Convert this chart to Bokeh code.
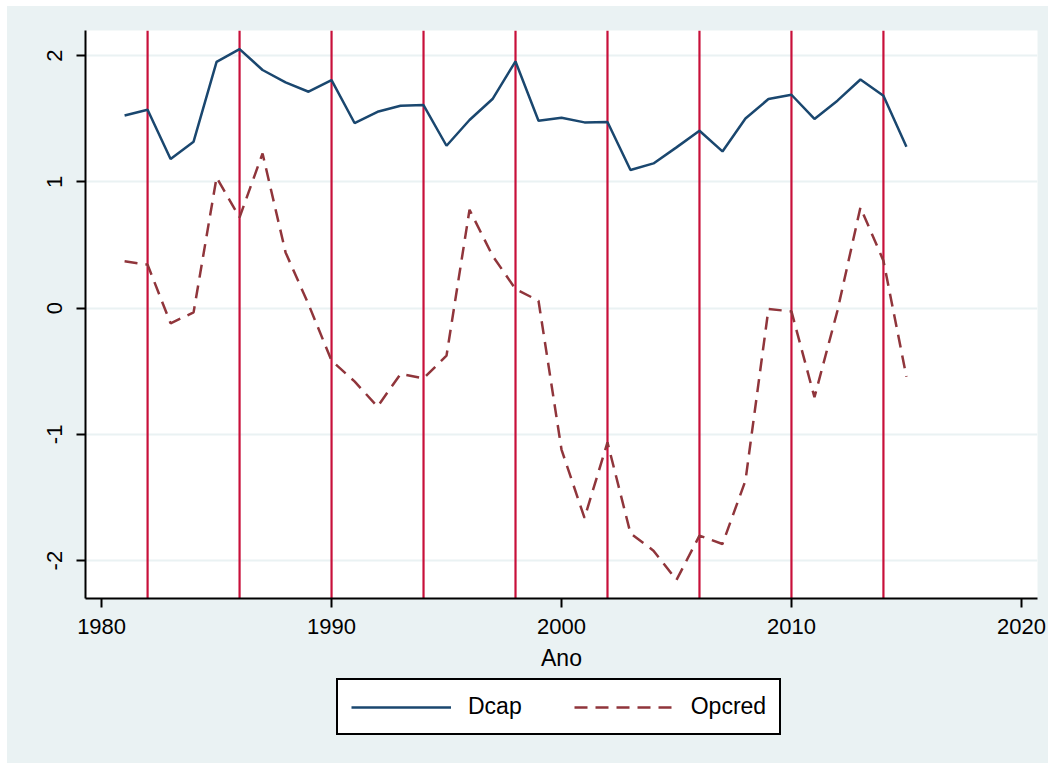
from bokeh.plotting import figure
from bokeh.models import Range1d, FixedTicker, Span, Legend, LegendItem
from bokeh.layouts import column
from bokeh.embed import file_html
from bokeh.resources import INLINE

# ---- data ----
years = list(range(1981, 2016))
dcap = [1.527, 1.572, 1.182, 1.319, 1.952, 2.053, 1.887, 1.789, 1.715, 1.807,
        1.467, 1.556, 1.604, 1.609, 1.287, 1.491, 1.657, 1.955, 1.485, 1.509,
        1.472, 1.475, 1.095, 1.147, 1.274, 1.406, 1.242, 1.503, 1.657, 1.691,
        1.499, 1.644, 1.812, 1.683, 1.279]
opcred = [0.371, 0.345, -0.120, -0.033, 1.036, 0.719, 1.226, 0.442, 0.030, -0.416,
          -0.580, -0.780, -0.521, -0.556, -0.376, 0.780, 0.416, 0.152, 0.059, -1.120,
          -1.662, -1.063, -1.784, -1.921, -2.153, -1.802, -1.868, -1.366, -0.007, -0.025,
          -0.706, -0.020, 0.799, 0.376, -0.543]
election_years = [1982, 1986, 1990, 1994, 1998, 2002, 2006, 2010, 2014]
x_ticks = [1980, 1990, 2000, 2010, 2020]
y_ticks = [-2, -1, 0, 1, 2]
y_tick_labels = ["-2", "-1", "0", "1", "2"]
series_names = ["Dcap", "Opcred"]

FONT = "Liberation Sans"
BG = "#EAF2F3"
C_DCAP = "#1A476F"
C_OPC = "#90353B"
DASH = "13 8"

p = figure(width=1041, height=670, output_backend="svg", toolbar_location=None,
           x_range=Range1d(1979.3, 2020.7), y_range=Range1d(-2.30, 2.20),
           min_border_left=78, min_border_right=11, min_border_top=24,
           min_border_bottom=78)
p.border_fill_color = BG
p.background_fill_color = "white"
p.outline_line_color = None

# grid
p.xgrid.visible = False
p.ygrid.ticker = FixedTicker(ticks=y_ticks)
p.ygrid.grid_line_color = BG
p.ygrid.grid_line_width = 2

# vertical election lines
for yr in election_years:
    p.add_layout(Span(location=yr, dimension="height", line_color="#C8103A",
                      line_width=2.2, level="underlay"))

r1 = p.line(years, dcap, line_color=C_DCAP, line_width=2.5)
r2 = p.line(years, opcred, line_color=C_OPC, line_width=2.5, line_dash=DASH)

# axes
for ax in (p.xaxis[0], p.yaxis[0]):
    ax.axis_line_color = "black"
    ax.axis_line_width = 2
    ax.major_tick_line_color = "black"
    ax.major_tick_line_width = 2
    ax.major_tick_out = 9
    ax.major_tick_in = 0
    ax.minor_tick_line_color = None
    ax.major_label_text_font = FONT
    ax.major_label_text_font_size = "22px"
    ax.major_label_text_color = "black"

p.xaxis.ticker = FixedTicker(ticks=x_ticks)
p.xaxis.major_label_standoff = 11
p.xaxis.axis_label = "Ano"
p.xaxis.axis_label_text_font = FONT
p.xaxis.axis_label_text_font_size = "23px"
p.xaxis.axis_label_text_font_style = "normal"
p.xaxis.axis_label_text_color = "black"
p.xaxis.axis_label_standoff = 8

p.yaxis.ticker = FixedTicker(ticks=y_ticks)
p.yaxis.major_label_overrides = {t: l for t, l in zip(y_ticks, y_tick_labels)}
p.yaxis.major_label_orientation = "vertical"
p.yaxis.major_label_standoff = 14

# legend strip below the plot (its frame is aligned with the main frame)
q = figure(width=1041, height=87, output_backend="svg", toolbar_location=None,
           x_range=Range1d(0, 1), y_range=Range1d(0, 1),
           x_axis_location=None, y_axis_location=None,
           min_border=0)
q.grid.visible = False
q.outline_line_color = None
q.border_fill_color = BG
q.background_fill_color = BG
l1 = q.line(years, dcap, line_color=C_DCAP, line_width=2.5, visible=False)
l2 = q.line(years, opcred, line_color=C_OPC, line_width=2.5, line_dash=DASH, visible=False)

legend = Legend(items=[LegendItem(label=series_names[0], renderers=[l1]),
                       LegendItem(label=series_names[1], renderers=[l2])],
                orientation="horizontal", location=(251, 28),
                glyph_width=100, glyph_height=24, label_height=24,
                label_standoff=17, spacing=52, padding=13, margin=0,
                label_text_font=FONT, label_text_font_size="23px",
                label_text_color="black",
                border_line_color="black", border_line_width=2, border_line_alpha=1,
                background_fill_color="white", background_fill_alpha=1,
                inactive_fill_alpha=0)
q.add_layout(legend, "center")

layout = column(p, q, spacing=0)
layout.margin = (6, 0, 0, 7)
layout.styles = {"background-color": BG}

open("out.html", "w").write(file_html(layout, INLINE))
